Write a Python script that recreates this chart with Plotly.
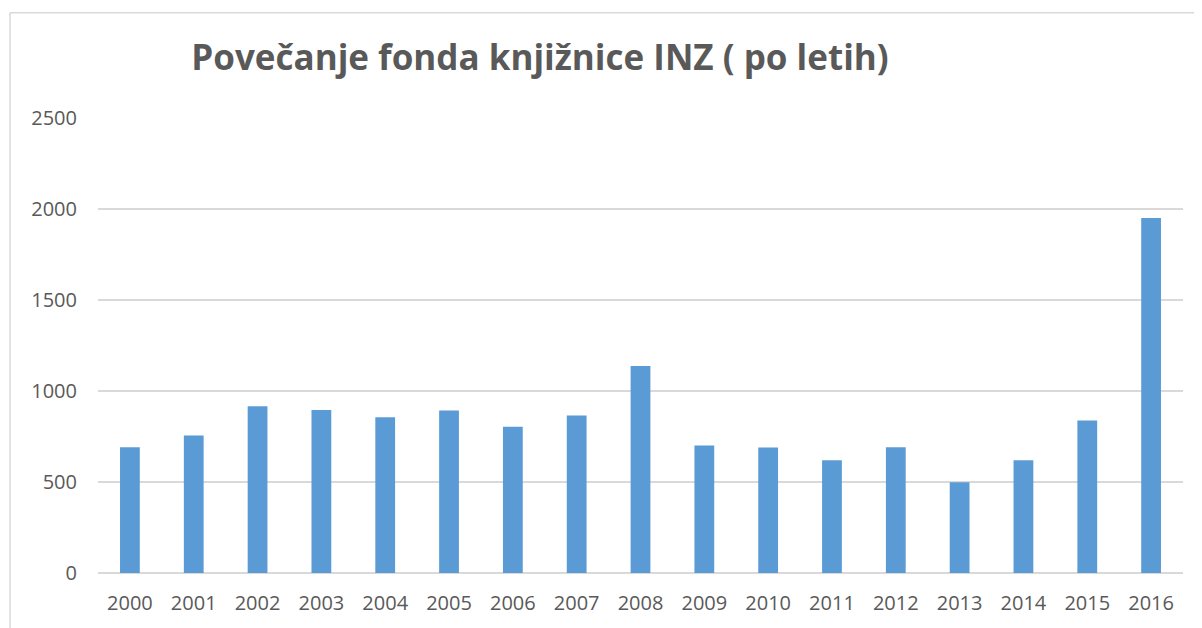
import plotly.graph_objects as go

years = ["2000", "2001", "2002", "2003", "2004", "2005", "2006", "2007", "2008",
         "2009", "2010", "2011", "2012", "2013", "2014", "2015", "2016"]
values = [691, 756, 916, 896, 856, 893, 804, 865, 1137,
          700, 689, 620, 691, 498, 620, 838, 1951]
y_ticks = [0, 500, 1000, 1500, 2000, 2500]
title_text = "Povečanje fonda knjižnice INZ ( po letih)"

# page body has an 8px margin; figure is sized to fit the remaining window
OFF = 8
W, H = 1202 - OFF, 628 - OFF
L, R, T, B = 98 - OFF, 1183 - OFF, 118 - OFF, 576 - OFF  # plot area in figure px
PW, PH = R - L, B - T

fig = go.Figure(go.Bar(x=years, y=values, marker=dict(color="#5B9BD5", line=dict(width=0))))

fig.update_layout(
    width=W, height=H,
    margin=dict(l=L, r=W - R, t=T, b=H - B),
    paper_bgcolor="white", plot_bgcolor="white",
    bargap=0.69,
    showlegend=False,
    title=dict(text=title_text, x=(540 - OFF) / W, xref="container", xanchor="center",
               y=1 - (58 - OFF) / H, yanchor="middle",
               font=dict(family="Open Sans", size=35, color="#595959", weight="bold")),
    font=dict(family="Open Sans", color="#595959"),
)
fig.update_xaxes(type="category", showgrid=False, showline=False, ticks="",
                 tickfont=dict(size=20, color="#595959"), ticklabelstandoff=16)
fig.update_yaxes(range=[0, 2500], tickvals=y_ticks, showgrid=True, gridcolor="#D9D9D9",
                 gridwidth=1.5, zeroline=True, zerolinecolor="#D9D9D9", zerolinewidth=1.5,
                 showline=False, ticks="", tickfont=dict(size=20, color="#595959"),
                 ticklabelstandoff=20)

def px_x(p):
    return (p - OFF - L) / PW

def px_y(p):
    return (B - (p - OFF)) / PH

fig.add_shape(type="line", xref="paper", yref="paper", x0=px_x(10), x1=px_x(1210),
              y0=px_y(12), y1=px_y(12), line=dict(color="#D9D9D9", width=1.5))
fig.add_shape(type="line", xref="paper", yref="paper", x0=px_x(10), x1=px_x(10),
              y0=px_y(12), y1=px_y(640), line=dict(color="#D9D9D9", width=1.5))

fig.write_html("out.html")
